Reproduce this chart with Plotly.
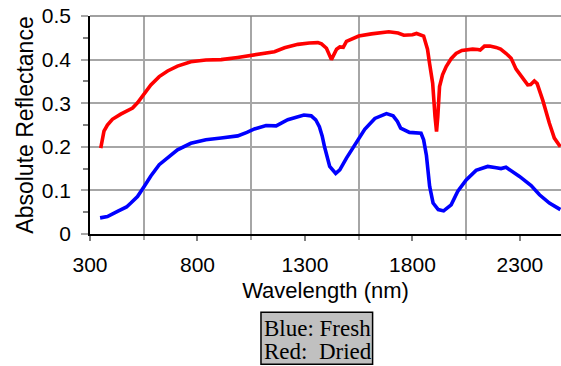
import plotly.graph_objects as go

# Dried (red) spectrum
wl_dried = [350, 358, 365, 381, 404, 443, 480, 498, 521, 552, 583, 622, 661, 707, 769, 839,
            910, 987, 1057, 1158, 1205, 1267, 1320, 1360, 1377, 1400, 1423, 1435, 1447, 1462,
            1478, 1493, 1550, 1609, 1690, 1733, 1760, 1800, 1819, 1852, 1870, 1880, 1894,
            1905, 1912, 1918, 1926, 1940, 1957, 1980, 2003, 2030, 2050, 2080, 2104, 2115,
            2135, 2160, 2189, 2210, 2236, 2259, 2282, 2298, 2320, 2336, 2350, 2367, 2380,
            2406, 2437, 2460, 2488]
refl_dried = [0.197, 0.220, 0.236, 0.250, 0.263, 0.275, 0.284, 0.289, 0.301, 0.323, 0.342,
              0.361, 0.374, 0.385, 0.395, 0.399, 0.400, 0.405, 0.410, 0.418, 0.427, 0.435,
              0.438, 0.439, 0.436, 0.426, 0.400, 0.412, 0.424, 0.429, 0.428, 0.442, 0.454,
              0.459, 0.464, 0.461, 0.456, 0.457, 0.460, 0.454, 0.424, 0.390, 0.346, 0.269,
              0.235, 0.270, 0.338, 0.365, 0.384, 0.402, 0.414, 0.421, 0.423, 0.424, 0.423,
              0.422, 0.431, 0.431, 0.428, 0.424, 0.414, 0.403, 0.378, 0.368, 0.352, 0.342,
              0.343, 0.351, 0.345, 0.307, 0.254, 0.220, 0.200]

# Fresh (blue) spectrum
wl_fresh = [347, 381, 428, 470, 490, 521, 552, 583, 622, 661, 707, 769, 839, 910, 987, 1030,
            1065, 1119, 1166, 1220, 1260, 1295, 1329, 1350, 1367, 1380, 1391, 1402, 1415,
            1443, 1462, 1493, 1532, 1578, 1625, 1679, 1710, 1730, 1745, 1786, 1840, 1852,
            1865, 1880, 1896, 1920, 1945, 1980, 2011, 2050, 2096, 2150, 2190, 2212, 2235,
            2265, 2298, 2352, 2391, 2437, 2488]
refl_fresh = [0.037, 0.040, 0.052, 0.062, 0.071, 0.086, 0.109, 0.133, 0.159, 0.174, 0.193,
              0.208, 0.216, 0.220, 0.225, 0.233, 0.241, 0.249, 0.248, 0.262, 0.269, 0.273,
              0.271, 0.262, 0.246, 0.225, 0.200, 0.178, 0.155, 0.139, 0.147, 0.174, 0.204,
              0.240, 0.265, 0.276, 0.271, 0.258, 0.243, 0.233, 0.231, 0.216, 0.180, 0.109,
              0.071, 0.056, 0.053, 0.067, 0.098, 0.124, 0.146, 0.155, 0.152, 0.150, 0.153,
              0.144, 0.132, 0.111, 0.090, 0.071, 0.056]

x_ticks = [300, 800, 1300, 1800, 2300]
x_grid = [550, 1050, 1550, 2050]
y_ticks = [0, 0.1, 0.2, 0.3, 0.4, 0.5]
y_ticktext = ["0", "0.1", "0.2", "0.3", "0.4", "0.5"]
y_minor = [0.05, 0.15, 0.25, 0.35, 0.45]
legend_lines = ["Blue: Fresh", "Red:  Dried"]

SANS = "Liberation Sans, Arial, sans-serif"
SERIF = "Liberation Serif, Times New Roman, serif"
GRID = "#a6a6a6"
XR = [300, 2491]
YR = [0, 0.5]

fig = go.Figure()
fig.add_trace(go.Scatter(x=wl_fresh, y=refl_fresh, mode="lines",
                         line=dict(color="#0000ff", width=3.6), showlegend=False))
fig.add_trace(go.Scatter(x=wl_dried, y=refl_dried, mode="lines",
                         line=dict(color="#ff0000", width=3.6), showlegend=False))

fig.update_layout(
    width=561, height=366,
    margin=dict(l=90, r=0, t=16, b=132),
    paper_bgcolor="white", plot_bgcolor="white",
    font=dict(family=SANS, color="black"),
    xaxis=dict(range=XR, tickmode="array", tickvals=x_ticks, ticks="outside", ticklen=5,
               tickwidth=1.5, tickcolor="#808080", showgrid=False, zeroline=False,
               showline=True, linecolor="black", linewidth=2,
               tickfont=dict(size=21, family=SANS), ticklabelstandoff=6,
               minor=dict(tickmode="array", tickvals=x_grid, showgrid=True, gridcolor=GRID,
                          gridwidth=1.5, ticks="outside", ticklen=4, tickcolor=GRID, tickwidth=1.5),
               title=dict(text="Wavelength (nm)", font=dict(size=22, family=SANS), standoff=7)),
    yaxis=dict(range=YR, tickmode="array", tickvals=y_ticks, ticktext=y_ticktext,
               ticks="outside", ticklen=7, tickwidth=1.5, tickcolor=GRID,
               showgrid=True, gridcolor=GRID, gridwidth=1.5, zeroline=False,
               showline=True, linecolor="black", linewidth=1.5,
               tickfont=dict(size=21, family=SANS), ticklabelstandoff=6,
               minor=dict(tickmode="array", tickvals=y_minor, ticks="outside", ticklen=5,
                          tickcolor="#808080", tickwidth=1.5, showgrid=False),
               title=dict(text="Absolute Reflectance", font=dict(size=23, family=SANS), standoff=2)),
    xaxis2=dict(range=XR, overlaying="x", anchor="y", side="bottom", tickmode="array",
                tickvals=x_ticks, ticks="inside", ticklen=5, tickwidth=1.5, tickcolor="#808080",
                showticklabels=False, showgrid=False, zeroline=False, showline=False),
    yaxis2=dict(range=YR, overlaying="y", anchor="x", side="left", tickmode="array",
                tickvals=y_minor, ticks="inside", ticklen=4, tickwidth=1.5, tickcolor="#808080",
                showticklabels=False, showgrid=False, zeroline=False, showline=False),
)

# top border of plotting area
fig.add_shape(type="line", xref="paper", yref="paper", x0=0, x1=1, y0=1, y1=1,
              line=dict(color="#808080", width=1.5))

# legend box
fig.add_shape(type="rect", xref="paper", yref="paper", x0=0.363, x1=0.600, y0=-0.598, y1=-0.359,
              fillcolor="#c0c0c0", line=dict(color="black", width=1.5), layer="above")
for i, txt in enumerate(legend_lines):
    fig.add_annotation(xref="paper", yref="paper", x=0.366, y=[-0.433, -0.540][i],
                       xanchor="left", yanchor="middle", text=txt, showarrow=False,
                       font=dict(family=SERIF, size=23, color="black"))

fig.write_html("out.html", config={"displayModeBar": False},
               post_script="document.body.style.margin='0px';")
